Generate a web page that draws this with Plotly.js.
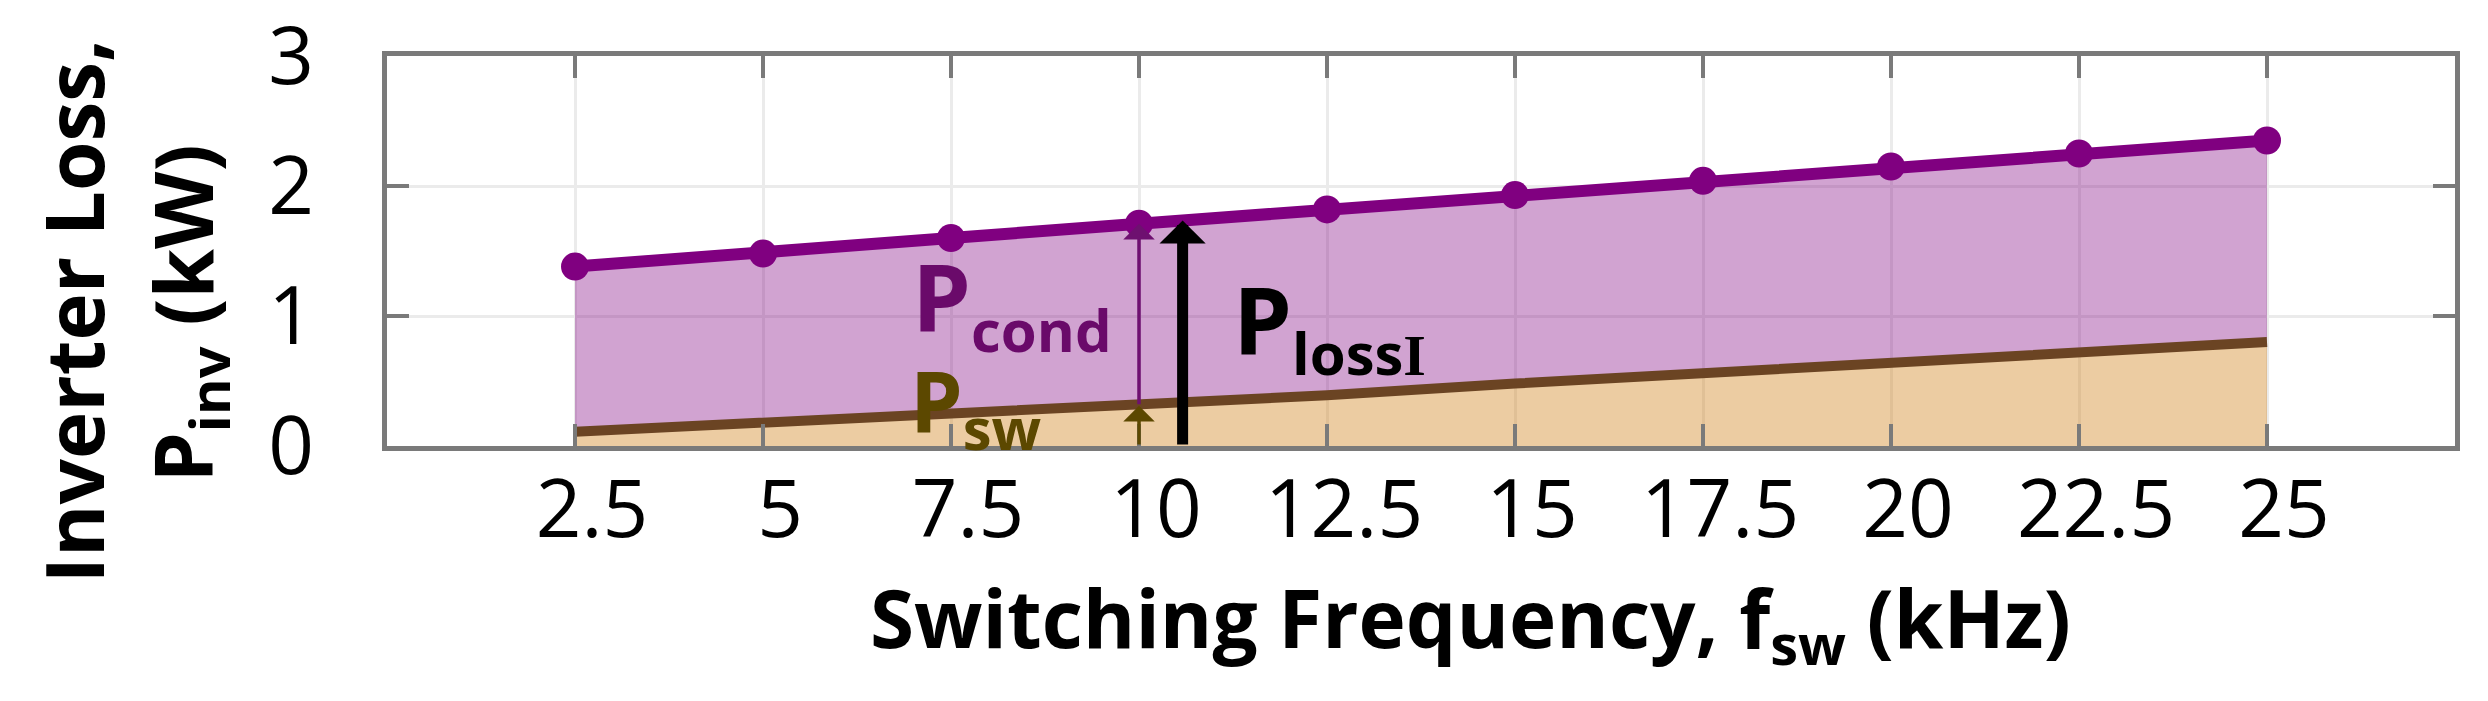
<!DOCTYPE html>
<html>
<head>
<meta charset="utf-8">
<script src="https://cdn.plot.ly/plotly-3.0.1.min.js"></script>
<style>
  html, body { margin: 0; padding: 0; background: #fff; }
  #chart { width: 2488px; height: 701px; }
</style>
</head>
<body>
<div id="chart"></div>
<script>
// switching frequency (kHz) and inverter loss (kW)
const freq = [2.5, 5, 7.5, 10, 12.5, 15, 17.5, 20, 22.5, 25];
const switchingLoss = [0.11, 0.18, 0.25, 0.31, 0.39, 0.48, 0.56, 0.63, 0.71, 0.80];
const totalLoss = [1.38, 1.48, 1.60, 1.71, 1.82, 1.93, 2.04, 2.15, 2.25, 2.35];
const yTicks = [0, 1, 2, 3];

const FONT = "Open Sans, Noto Sans, sans-serif";
const purple = "#800080";
const brown = "#6b4423";

function lossAt(f, series) {
  for (let i = 0; i < freq.length - 1; i++) {
    if (f >= freq[i] && f <= freq[i + 1]) {
      const t = (f - freq[i]) / (freq[i + 1] - freq[i]);
      return series[i] + t * (series[i + 1] - series[i]);
    }
  }
  return series[series.length - 1];
}

const iMark = freq.indexOf(10);
const fLoss = 10.58;

const data = [
  {
    x: freq,
    y: switchingLoss,
    type: "scatter",
    mode: "lines",
    line: { color: brown, width: 10 },
    fill: "tozeroy",
    fillcolor: "rgba(208,128,23,0.4)",
    hoverinfo: "none",
  },
  {
    x: freq,
    y: totalLoss,
    type: "scatter",
    mode: "lines+markers",
    line: { color: purple, width: 12 },
    marker: { color: purple, size: 28 },
    fill: "tonexty",
    fillcolor: "rgba(128,0,128,0.36)",
    hoverinfo: "none",
  },
];

const axisCommon = {
  showline: true,
  linecolor: "#7a7a7a",
  linewidth: 5,
  mirror: "ticks",
  ticks: "inside",
  ticklen: 22,
  tickwidth: 4,
  tickcolor: "#7a7a7a",
  showgrid: true,
  gridcolor: "#ebebeb",
  gridwidth: 3,
  zeroline: false,
  ticklabeloverflow: "allow",
  tickfont: { family: FONT, size: 80, color: "#000" },
};

const layout = {
  width: 2488,
  height: 701,
  margin: { l: 387, r: 33, t: 56, b: 255 },
  paper_bgcolor: "#fff",
  plot_bgcolor: "#fff",
  showlegend: false,
  xaxis: {
    ...axisCommon,
    range: [0, 27.5],
    tickvals: freq,
    ticktext: freq.map(String),
    ticklabelshift: 17,
    ticklabelstandoff: -10,
  },
  yaxis: {
    ...axisCommon,
    range: [0, 3],
    tickvals: yTicks,
    ticktext: yTicks.map(String),
    ticklabelstandoff: 52,
  },
  annotations: [
    // axis titles
    {
      xref: "paper", yref: "paper", x: -0.152, y: 0.344,
      xanchor: "center", yanchor: "middle", textangle: -90, showarrow: false,
      text: "<b>Inverter Loss,</b>",
      font: { family: FONT, size: 80, color: "#000" },
    },
    {
      xref: "paper", yref: "paper", x: -0.097, y: 0.341,
      xanchor: "center", yanchor: "middle", textangle: -90, showarrow: false,
      text: "<b>P<sub>inv</sub> (kW)</b>",
      font: { family: FONT, size: 80, color: "#000" },
    },
    {
      xref: "paper", yref: "paper", x: 0.5237, y: -0.45,
      xanchor: "center", yanchor: "middle", showarrow: false,
      text: "<b>Switching Frequency, f<sub>sw</sub> (kHz)</b>",
      font: { family: FONT, size: 80, color: "#000" },
    },
    // arrows
    {
      x: freq[iMark], y: switchingLoss[iMark], ax: freq[iMark], ay: 0,
      xref: "x", yref: "y", axref: "x", ayref: "y", text: "",
      showarrow: true, arrowhead: 1, arrowsize: 1.5, arrowwidth: 3.5, arrowcolor: "#5c4800",
    },
    {
      x: freq[iMark], y: totalLoss[iMark], ax: freq[iMark], ay: switchingLoss[iMark],
      xref: "x", yref: "y", axref: "x", ayref: "y", text: "",
      showarrow: true, arrowhead: 1, arrowsize: 1.5, arrowwidth: 3.5, arrowcolor: "#6e1070",
    },
    {
      x: fLoss, y: lossAt(fLoss, totalLoss), ax: fLoss, ay: 0,
      xref: "x", yref: "y", axref: "x", ayref: "y", text: "",
      showarrow: true, arrowhead: 1, arrowsize: 0.7, arrowwidth: 11, arrowcolor: "#000",
    },
    // in-plot labels
    {
      x: 6.95, y: 1.12, xref: "x", yref: "y", xanchor: "left", yanchor: "middle", showarrow: false,
      text: "<b>P<sub><span style=\"font-size:58px\">cond</span></sub></b>",
      font: { family: FONT, size: 94, color: "#6a0a6a" },
    },
    {
      x: 6.93, y: 0.32, xref: "x", yref: "y", xanchor: "left", yanchor: "middle", showarrow: false,
      text: "<b>P<sub><span style=\"font-size:58px\">sw</span></sub></b>",
      font: { family: FONT, size: 84, color: "#5c4800" },
    },
    {
      x: 11.22, y: 0.94, xref: "x", yref: "y", xanchor: "left", yanchor: "middle", showarrow: false,
      text: "<b>P<sub><span style=\"font-size:58px\">loss<span style=\"font-family:Liberation Serif\">I</span></span></sub></b>",
      font: { family: FONT, size: 94, color: "#000" },
    },
  ],
};

Plotly.newPlot("chart", data, layout, { displayModeBar: false, staticPlot: true });
</script>
</body>
</html>
